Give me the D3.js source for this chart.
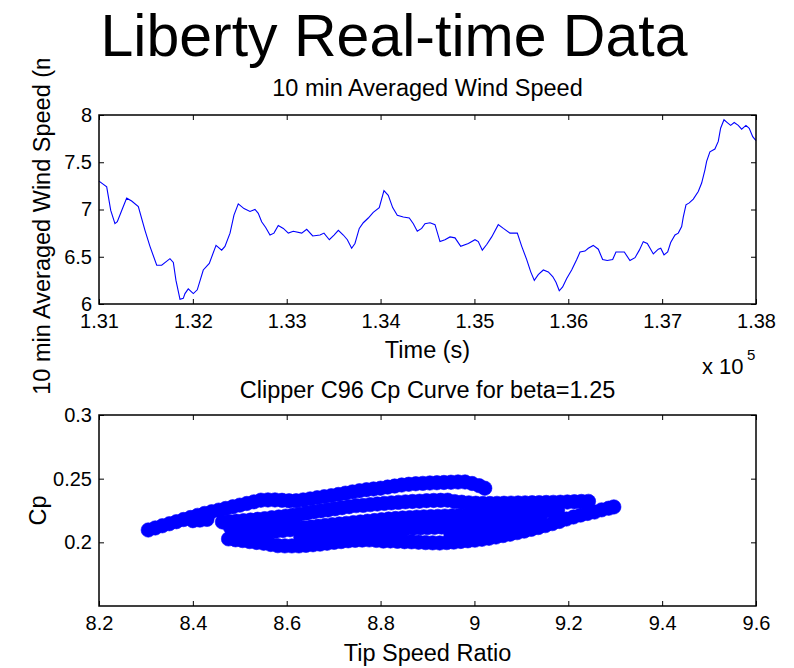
<!DOCTYPE html>
<html><head><meta charset="utf-8">
<script src="https://cdn.jsdelivr.net/npm/d3@7"></script>
<style>body{margin:0;background:#fff} text{font-family:"Liberation Sans",Arial,Helvetica,sans-serif;fill:#000}</style>
</head><body><svg id="c" width="794" height="668"></svg>
<script>
// ---------- DATA ----------
const timeSec = [131000,131082,131125,131170,131195,131242,131295,131348,131419,131490,131543,131615,131668,131756,131792,131820,131863,131898,131916,131951,132005,132047,132111,132175,132247,132307,132342,132396,132438,132484,132545,132609,132662,132697,132733,132776,132822,132864,132910,132964,133017,133070,133160,133213,133277,133355,133397,133454,133504,133550,133603,133646,133692,133727,133773,133816,133869,133922,133986,134036,134082,134129,134178,134242,134306,134349,134391,134438,134473,134527,134580,134633,134686,134740,134793,134854,134935,135006,135041,135084,135131,135184,135254,135308,135379,135457,135504,135557,135600,135638,135680,135734,135787,135834,135869,135904,135940,135983,136036,136090,136125,136178,136213,136266,136320,136366,136415,136473,136508,136551,136597,136657,136711,136757,136799,136842,136906,136959,136985,137020,137059,137091,137137,137172,137208,137225,137254,137289,137332,137385,137421,137456,137474,137509,137562,137598,137623,137659,137694,137730,137768,137811,137847,137893,137928,137965,138000];
const windSpeed = [7.30,7.24,6.99,6.85,6.87,6.99,7.12,7.09,7.03,6.78,6.61,6.41,6.41,6.48,6.44,6.25,6.05,6.06,6.11,6.16,6.11,6.15,6.36,6.43,6.62,6.57,6.61,6.75,6.94,7.06,7.01,6.98,7.00,6.96,6.87,6.81,6.73,6.75,6.83,6.80,6.75,6.77,6.75,6.79,6.72,6.73,6.75,6.68,6.73,6.78,6.73,6.68,6.59,6.64,6.80,6.86,6.91,6.97,7.02,7.20,7.15,7.02,6.94,6.92,6.91,6.85,6.77,6.80,6.85,6.86,6.84,6.66,6.68,6.71,6.70,6.61,6.64,6.68,6.66,6.57,6.63,6.71,6.84,6.80,6.75,6.75,6.61,6.47,6.34,6.25,6.31,6.36,6.34,6.29,6.23,6.14,6.18,6.27,6.36,6.47,6.55,6.56,6.59,6.62,6.58,6.47,6.46,6.47,6.55,6.55,6.55,6.46,6.49,6.57,6.66,6.64,6.53,6.58,6.59,6.52,6.55,6.65,6.73,6.75,6.82,6.92,7.05,7.07,7.11,7.19,7.28,7.42,7.51,7.61,7.64,7.72,7.86,7.95,7.92,7.89,7.92,7.89,7.85,7.89,7.86,7.77,7.73];

const timeTicks = [131000,132000,133000,134000,135000,136000,137000,138000];
const timeTickLabels = ["1.31","1.32","1.33","1.34","1.35","1.36","1.37","1.38"];
const speedTicks = [6,6.5,7,7.5,8];
const speedTickLabels = ["6","6.5","7","7.5","8"];

// Tip speed ratio / Cp samples (runs of consecutive samples)
const tsrCpRun1 = [[8.305,0.2097],[8.320,0.2113],[8.335,0.2130],[8.350,0.2146],[8.365,0.2162],[8.380,0.2179],[8.395,0.2195],[8.410,0.2212],[8.425,0.2227],[8.440,0.2240],[8.455,0.2253],[8.470,0.2266],[8.485,0.2279],[8.500,0.2292],[8.515,0.2305],[8.530,0.2318],[8.545,0.2331],[8.560,0.2333],[8.575,0.2333],[8.590,0.2330],[8.605,0.2326],[8.620,0.2326],[8.635,0.2333],[8.650,0.2341],[8.665,0.2350],[8.680,0.2358],[8.695,0.2366],[8.710,0.2376],[8.725,0.2386],[8.740,0.2396],[8.755,0.2405],[8.770,0.2413],[8.785,0.2419],[8.800,0.2425],[8.815,0.2434],[8.830,0.2442],[8.845,0.2450],[8.860,0.2456],[8.875,0.2460],[8.890,0.2463],[8.905,0.2466],[8.920,0.2468],[8.935,0.2470],[8.950,0.2472],[8.965,0.2474],[8.980,0.2474],[8.995,0.2462],[9.010,0.2445],[9.022,0.2425]];
const tsrCpRun2 = [[8.400,0.2170],[8.415,0.2175],[8.430,0.2180]];
const tsrCpRun3 = [[8.463,0.2160],[8.478,0.2163],[8.493,0.2166],[8.508,0.2170],[8.523,0.2175],[8.538,0.2181],[8.553,0.2186],[8.568,0.2193],[8.583,0.2199],[8.598,0.2206],[8.613,0.2213],[8.628,0.2221],[8.643,0.2230],[8.658,0.2239],[8.673,0.2247],[8.688,0.2254],[8.703,0.2263],[8.718,0.2272],[8.733,0.2280],[8.748,0.2288],[8.763,0.2290],[8.778,0.2296],[8.793,0.2301],[8.808,0.2306],[8.823,0.2310],[8.838,0.2314],[8.853,0.2318],[8.868,0.2321],[8.883,0.2323],[8.898,0.2327],[8.913,0.2329],[8.928,0.2330],[8.943,0.2331],[8.958,0.2320],[8.973,0.2315],[8.988,0.2310],[9.003,0.2307],[9.018,0.2305],[9.033,0.2305],[9.048,0.2306],[9.063,0.2307],[9.078,0.2308],[9.093,0.2309],[9.108,0.2310],[9.123,0.2311],[9.138,0.2312],[9.153,0.2313],[9.168,0.2314],[9.183,0.2315],[9.198,0.2317],[9.213,0.2319],[9.228,0.2321],[9.243,0.2322]];
const tsrCpRun4 = [[8.476,0.2027],[8.491,0.2020],[8.506,0.2014],[8.521,0.2006],[8.536,0.1999],[8.551,0.1993],[8.566,0.1983],[8.581,0.1974],[8.596,0.1972],[8.611,0.1972],[8.626,0.1972],[8.641,0.1976],[8.656,0.1981],[8.671,0.1986],[8.686,0.1993],[8.701,0.2000],[8.716,0.2006],[8.731,0.2012],[8.746,0.2016],[8.761,0.2018],[8.776,0.2019],[8.791,0.2015],[8.806,0.2010],[8.821,0.2011],[8.836,0.2008],[8.851,0.2005],[8.866,0.2004],[8.881,0.2001],[8.896,0.1998],[8.911,0.1996],[8.926,0.1995],[8.941,0.1998],[8.956,0.2002],[8.971,0.2007],[8.986,0.2012],[9.001,0.2017],[9.016,0.2024],[9.031,0.2032],[9.046,0.2042],[9.061,0.2053],[9.076,0.2064],[9.091,0.2076],[9.106,0.2088],[9.121,0.2102],[9.136,0.2116],[9.151,0.2131],[9.166,0.2147],[9.181,0.2164],[9.196,0.2183],[9.211,0.2199],[9.226,0.2214],[9.241,0.2227],[9.256,0.2238],[9.271,0.2255],[9.286,0.2268],[9.297,0.2278]];
const tsrCpRun5 = [[8.502,0.2082],[8.517,0.2082],[8.532,0.2082],[8.547,0.2082],[8.562,0.2082],[8.577,0.2087],[8.592,0.2093],[8.607,0.2099],[8.622,0.2106],[8.637,0.2115],[8.652,0.2120],[8.667,0.2126],[8.682,0.2132],[8.697,0.2138],[8.712,0.2144],[8.727,0.2149],[8.742,0.2155],[8.757,0.2160],[8.772,0.2166],[8.787,0.2171],[8.802,0.2177],[8.817,0.2183],[8.832,0.2187],[8.847,0.2191],[8.862,0.2194],[8.877,0.2198],[8.892,0.2200],[8.907,0.2202],[8.922,0.2204],[8.937,0.2206],[8.952,0.2207],[8.967,0.2209],[8.982,0.2211],[8.997,0.2213],[9.012,0.2215],[9.027,0.2217],[9.042,0.2219],[9.057,0.2221],[9.072,0.2223],[9.087,0.2226],[9.102,0.2229],[9.117,0.2232],[9.132,0.2236],[9.147,0.2241],[9.162,0.2246],[9.177,0.2251]];
const tsrCpRun6 = [[8.630,0.2042],[8.645,0.2046],[8.660,0.2050],[8.675,0.2054],[8.690,0.2058],[8.705,0.2063],[8.720,0.2069],[8.735,0.2075],[8.750,0.2081],[8.765,0.2085],[8.780,0.2090],[8.795,0.2094],[8.810,0.2097],[8.825,0.2101],[8.840,0.2105],[8.855,0.2109],[8.870,0.2112],[8.885,0.2114],[8.900,0.2116],[8.915,0.2118],[8.930,0.2120],[8.945,0.2121],[8.960,0.2123],[8.975,0.2125],[8.990,0.2127],[9.005,0.2129],[9.020,0.2132],[9.035,0.2135],[9.050,0.2138],[9.065,0.2141],[9.080,0.2144],[9.095,0.2150],[9.110,0.2158],[9.125,0.2166],[9.140,0.2175]];
const tsrCpRun7 = [[8.480,0.2118],[8.495,0.2121],[8.510,0.2124],[8.525,0.2127],[8.540,0.2130],[8.555,0.2133],[8.570,0.2136],[8.585,0.2139],[8.600,0.2142],[8.615,0.2146]];
const tsrCpRun8 = [[8.950,0.2062],[8.965,0.2065],[8.980,0.2069],[8.995,0.2073],[9.010,0.2078],[9.025,0.2083],[9.040,0.2089],[9.055,0.2095],[9.070,0.2101],[9.085,0.2108],[9.100,0.2115],[9.115,0.2122],[9.130,0.2130]];

const tsrTicks = [8.2,8.4,8.6,8.8,9.0,9.2,9.4,9.6];
const tsrTickLabels = ["8.2","8.4","8.6","8.8","9","9.2","9.4","9.6"];
const cpTicks = [0.2,0.25,0.3];
const cpTickLabels = ["0.2","0.25","0.3"];

// ---------- DRAW ----------
const svg = d3.select("#c");
svg.append("rect").attr("width",794).attr("height",668).attr("fill","#fff");
const FONT_TICK = 20, FONT_LAB = 23.5;
const L = 99, R = 756;

function panel(g, x, y, xTicks, xLabels, yTicks, yLabels) {
  const [x0,x1] = x.range(), [y0,y1] = y.range();
  const fmtX = d => xLabels[xTicks.indexOf(d)];
  const fmtY = d => yLabels[yTicks.indexOf(d)];
  const axB = g.append("g").attr("transform",`translate(0,${y0})`)
    .call(d3.axisBottom(x).tickValues(xTicks).tickFormat(fmtX).tickSizeInner(-5).tickSizeOuter(0).tickPadding(10));
  const axT = g.append("g").attr("transform",`translate(0,${y1})`)
    .call(d3.axisTop(x).tickValues(xTicks).tickFormat("").tickSizeInner(-5).tickSizeOuter(0));
  const axL = g.append("g").attr("transform",`translate(${x0},0)`)
    .call(d3.axisLeft(y).tickValues(yTicks).tickFormat(fmtY).tickSizeInner(-5).tickSizeOuter(0).tickPadding(7));
  const axR = g.append("g").attr("transform",`translate(${x1},0)`)
    .call(d3.axisRight(y).tickValues(yTicks).tickFormat("").tickSizeInner(-5).tickSizeOuter(0));
  [axB,axT,axL,axR].forEach(a => {
    a.select(".domain").remove();
    a.selectAll(".tick line").attr("stroke","#000").attr("stroke-width",1);
    a.selectAll("text").attr("font-size",FONT_TICK).attr("font-family","Liberation Sans, Arial, sans-serif").attr("fill","#000");
  });
  g.append("rect").attr("x",x0).attr("y",y1).attr("width",x1-x0).attr("height",y0-y1)
    .attr("fill","none").attr("stroke","#000").attr("stroke-width",1.5);
}

// Top panel
const xT = d3.scaleLinear().domain([131000,138000]).range([L,R]);
const yT = d3.scaleLinear().domain([6,8]).range([304,115]);
const gT = svg.append("g");
gT.append("path").datum(d3.zip(timeSec, windSpeed))
  .attr("fill","none").attr("stroke","#0000ff").attr("stroke-width",1.1)
  .attr("d", d3.line().x(d=>xT(d[0])).y(d=>yT(d[1])));
panel(gT, xT, yT, timeTicks, timeTickLabels, speedTicks, speedTickLabels);

// Bottom panel
const xB = d3.scaleLinear().domain([8.2,9.6]).range([L,R]);
const yB = d3.scaleLinear().domain([0.15,0.3]).range([606,415]);
const gB = svg.append("g");
const pts = [].concat(tsrCpRun1,tsrCpRun2,tsrCpRun3,tsrCpRun4,tsrCpRun5,tsrCpRun6,tsrCpRun7,tsrCpRun8);
gB.append("g").selectAll("circle").data(pts).join("circle")
  .attr("cx",d=>xB(d[0])).attr("cy",d=>yB(d[1])).attr("r",7.2)
  .attr("fill","#0000ff").attr("stroke","#0000ff").attr("stroke-width",0.6);
panel(gB, xB, yB, tsrTicks, tsrTickLabels, cpTicks, cpTickLabels);

// Texts
svg.append("text").attr("x",394).attr("y",56).attr("text-anchor","middle").attr("font-size",59).text("Liberty Real-time Data");
svg.append("text").attr("x",(L+R)/2).attr("y",96).attr("text-anchor","middle").attr("font-size",FONT_LAB).text("10 min Averaged Wind Speed");
svg.append("text").attr("x",(L+R)/2).attr("y",358).attr("text-anchor","middle").attr("font-size",FONT_LAB).text("Time (s)");
svg.append("text").attr("x",702).attr("y",374).attr("font-size",22).text("x 10");
svg.append("text").attr("x",747).attr("y",360).attr("font-size",15).text("5");
svg.append("text").attr("x",(L+R)/2).attr("y",398).attr("text-anchor","middle").attr("font-size",FONT_LAB).text("Clipper C96 Cp Curve for beta=1.25");
svg.append("text").attr("x",(L+R)/2).attr("y",661).attr("text-anchor","middle").attr("font-size",FONT_LAB).text("Tip Speed Ratio");

svg.append("defs").append("clipPath").attr("id","ylabclip").append("rect").attr("x",0).attr("y",59).attr("width",100).attr("height",610);
svg.append("g").attr("clip-path","url(#ylabclip)").append("text")
  .attr("transform",`translate(50,${(115+304)/2}) rotate(-90)`).attr("text-anchor","middle").attr("font-size",FONT_LAB)
  .text("10 min Averaged Wind Speed (m/s)");
svg.append("text").attr("transform",`translate(46,${(415+606)/2}) rotate(-90)`).attr("text-anchor","middle").attr("font-size",FONT_LAB).text("Cp");
</script></body></html>
